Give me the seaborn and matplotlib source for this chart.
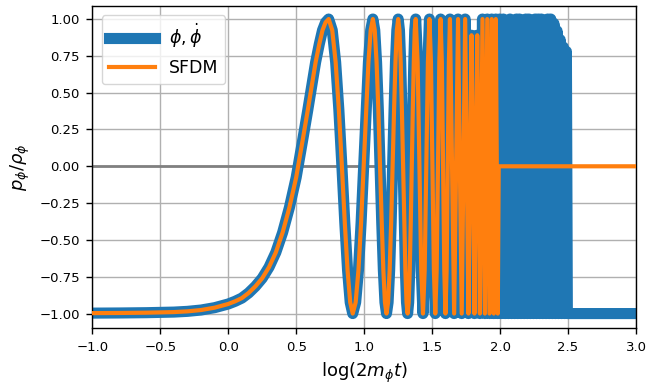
import numpy as np
import matplotlib
matplotlib.use("Agg")
import matplotlib.pyplot as plt
import seaborn as sns

# smooth rise from the frozen regime (x = log(2 m t))
rise_x = [-1.0, -0.8, -0.6, -0.4, -0.3, -0.2, -0.1, 0.0, 0.05, 0.1, 0.15,
          0.2, 0.25, 0.3, 0.35, 0.4, 0.45, 0.5, 0.55, 0.5855, 0.615, 0.643,
          0.67, 0.6937, 0.716]
rise_y = [-0.997, -0.996, -0.994, -0.99, -0.985, -0.976, -0.96, -0.935,
          -0.917, -0.895, -0.86, -0.815, -0.76, -0.685, -0.585, -0.45, -0.28,
          -0.075, 0.19, 0.383, 0.55, 0.707, 0.83, 0.924, 0.977]

# oscillations shared by both curves
osc_x = [0.7388, 0.7653, 0.7903, 0.8139, 0.8363, 0.8576, 0.8780, 0.8974,
         0.9159, 0.9375, 0.9580, 0.9775, 0.9963, 1.0143, 1.0315, 1.0481,
         1.0641, 1.0780, 1.0914, 1.1045, 1.1171, 1.1294, 1.1414, 1.1530,
         1.1644, 1.1761, 1.1875, 1.1987, 1.2095, 1.2201, 1.2304, 1.2405,
         1.2504, 1.2597, 1.2688, 1.2777, 1.2865, 1.2950, 1.3034, 1.3117,
         1.3197, 1.3276, 1.3354, 1.3430, 1.3505, 1.3579, 1.3652, 1.3723,
         1.3793, 1.3934, 1.4069, 1.4201, 1.4328, 1.4453, 1.4573, 1.4691,
         1.4804, 1.4916, 1.5024, 1.5131, 1.5234, 1.5335, 1.5433, 1.5530,
         1.5624, 1.5717, 1.5807, 1.5896, 1.5982, 1.6068, 1.6151, 1.6233,
         1.6313, 1.6470, 1.6621, 1.6767, 1.6908, 1.7046, 1.7178, 1.7307,
         1.7432, 1.7553, 1.7672, 1.7787, 1.7899, 1.8008, 1.8114, 1.8218,
         1.8321, 1.8420, 1.8517, 1.8612, 1.8705, 1.8796, 1.8885, 1.8972,
         1.9057, 1.9141, 1.9224, 1.9305, 1.9384, 1.9462, 1.9539, 1.9614,
         1.9688, 1.9760, 1.9832]
osc_y = [1.0, 0.924, 0.707, 0.383, 0.0, -0.383, -0.707, -0.924,
         -1.0, -0.924, -0.707, -0.383, 0.0, 0.383, 0.707, 0.924,
         1.0, 0.924, 0.707, 0.383, 0.0, -0.383, -0.707, -0.924,
         -1.0, -0.924, -0.707, -0.383, 0.0, 0.383, 0.707, 0.924,
         1.0, 0.924, 0.707, 0.383, 0.0, -0.383, -0.707, -0.924,
         -1.0, -0.924, -0.707, -0.383, 0.0, 0.383, 0.707, 0.924,
         1.0, 0.707, 0.0, -0.707, -1.0, -0.707, 0.0, 0.707,
         1.0, 0.707, 0.0, -0.707, -1.0, -0.707, 0.0, 0.707,
         1.0, 0.707, 0.0, -0.707, -1.0, -0.707, 0.0, 0.707,
         1.0, 0.0, -1.0, 0.0, 1.0, 0.0, -1.0, 0.0,
         1.0, 0.0, -1.0, 0.0, 0.89, 0.0, -1.0, 0.0,
         0.89, 0.0, -1.0, 0.0, 1.0, 0.0, -1.0, 0.0,
         1.0, 0.0, -1.0, 0.0, 1.0, 0.0, -1.0, 0.0,
         1.0, 0.0, -1.0]

# scalar field keeps oscillating, then sits at -1
phi_tail_x = [1.9902, 1.9971, 2.011, 2.024, 2.037, 2.049, 2.061, 2.073, 2.085,
              2.097, 2.108, 2.120, 2.131, 2.143, 2.154, 2.166, 2.177, 2.189,
              2.200, 2.212, 2.223, 2.235, 2.246, 2.258, 2.269, 2.281, 2.292,
              2.304, 2.315, 2.327, 2.338, 2.350, 2.361, 2.373, 2.384, 2.396,
              2.407, 2.419, 2.430, 2.442, 2.453, 2.465, 2.476, 2.488, 2.495,
              3.0]
phi_tail_y = [0.0, 1.0, -1.0, 1.0, -1.0, 0.97, -1.0, 1.0, -1.0,
              0.96, -1.0, 1.0, -1.0, 1.0, -1.0, 0.97, -1.0, 1.0,
              -1.0, 1.0, -1.0, 0.96, -1.0, 1.0, -1.0, 1.0, -1.0,
              1.0, -1.0, 0.97, -1.0, 1.0, -1.0, 1.0, -1.0, 0.97,
              -1.0, 0.92, -1.0, 0.86, -1.0, 0.81, -1.0, 0.78, -1.0,
              -1.0]

# SFDM switches to the averaged value 0
sfdm_tail_x = [1.990, 3.0]
sfdm_tail_y = [0.0, 0.0]

phi_x = rise_x + osc_x + phi_tail_x
phi_y = rise_y + osc_y + phi_tail_y
sfdm_x = rise_x + osc_x + sfdm_tail_x
sfdm_y = rise_y + osc_y + sfdm_tail_y

fig = plt.figure(figsize=(6.46, 3.85), dpi=100)
ax = fig.add_axes([0.1429, 0.1473, 0.8416, 0.8377])

ax.axhline(0, color='gray', lw=2, zorder=1.5)
sns.lineplot(x=phi_x, y=phi_y, ax=ax, color='#1f77b4', lw=8,
             label=r'$\phi, \dot\phi$', sort=False, estimator=None, zorder=2)
sns.lineplot(x=sfdm_x, y=sfdm_y, ax=ax, color='#ff7f0e', lw=3,
             label='SFDM', sort=False, estimator=None, zorder=3)

ax.set_xlim(-1, 3)
ax.set_ylim(-1.1, 1.09)
ax.set_xticks(np.arange(-1.0, 3.01, 0.5))
ax.set_yticks(np.arange(-1.0, 1.01, 0.25))
ax.tick_params(labelsize=9.5, length=4.5, width=1.0, pad=4.5)
for sp in ax.spines.values():
    sp.set_linewidth(1.0)
ax.grid(True, color='#b0b0b0', lw=1.0)
ax.set_axisbelow(True)
ax.set_xlabel(r'$\log(2m_\phi t)$', fontsize=13, labelpad=5)
ax.set_ylabel(r'$p_\phi/\rho_\phi$', fontsize=13, labelpad=5)
ax.legend(loc='upper left', fontsize=12.5, handlelength=2.65,
          borderaxespad=0.55)

fig.savefig('out.png', dpi=100)
